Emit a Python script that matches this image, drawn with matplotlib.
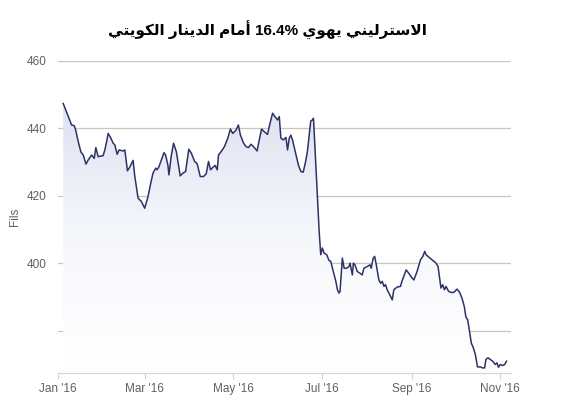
import numpy as np
import pandas as pd
import matplotlib
matplotlib.use('Agg')
import matplotlib.pyplot as plt
import matplotlib.dates as mdates
from matplotlib.colors import LinearSegmentedColormap

# GBP in Kuwaiti fils, 2016 (days counted from 1 Jan 2016)
days = [3.8, 7.3, 9.6, 11.4, 12.4, 14.2, 16.0, 17.6, 19.5, 21.0, 23.4, 25.2, 26.3, 27.9,
        31.3, 32.5, 33.7, 34.8, 36.6, 38.2, 39.4, 41.0, 42.3, 45.1, 46.3, 48.1, 49.7,
        52.0, 53.1, 55.4, 57.7, 60.0, 62.3, 63.9, 65.7, 67.6, 68.5, 69.8, 71.5, 73.3,
        74.4, 76.0, 76.7, 78.4, 79.9, 81.8, 83.6, 84.5, 86.3, 88.2, 90.4, 92.1, 94.4,
        96.2, 98.3, 100.5, 102.4, 104.0, 105.4, 106.9, 108.6, 110.0, 110.9, 112.7,
        115.0, 117.3, 119.1, 120.7, 123.0, 124.6, 126.0, 128.2, 129.9, 131.5, 133.3,
        135.6, 137.5, 139.0, 140.6, 142.5, 144.7, 146.4, 148.2, 149.8, 151.6, 152.8,
        153.9, 155.5, 157.4, 158.5, 159.7, 160.8, 161.9, 163.8, 166.0, 167.7, 169.3,
        170.7, 172.2, 173.4, 174.5, 175.7, 176.4, 180.3, 181.4, 182.5, 183.7, 185.5,
        187.1, 188.3, 190.1, 191.8, 192.9, 194.0, 194.7, 196.3, 197.5, 199.3, 200.9,
        201.6, 203.2, 203.9, 205.0, 206.6, 208.5, 210.0, 211.2, 213.5, 215.3, 216.2,
        217.6, 218.6, 219.9, 221.5, 222.7, 223.8, 225.0, 226.1, 227.2, 229.6, 230.7,
        231.8, 234.1, 236.4, 237.3, 238.7, 240.3, 242.1, 244.0, 245.6, 247.8, 250.2,
        251.8, 253.1, 254.0, 255.9, 258.1, 260.5, 262.3, 263.2, 264.3, 265.5, 266.7,
        267.8, 269.6, 271.5, 273.1, 275.4, 277.2, 278.8, 280.4, 281.5, 282.7, 283.8,
        285.2, 286.6, 288.0, 289.5, 291.4, 293.0, 294.4, 295.3, 296.7, 298.3, 299.9,
        301.8, 302.9, 304.0, 305.2, 306.8, 308.2, 309.5]
fils = [447.4, 443.5, 441.0, 440.8, 439.5, 436.0, 433.0, 432.1, 429.4, 430.6, 432.1, 431.1,
        434.3, 431.6, 431.9, 433.6, 436.0, 438.5, 437.2, 435.6, 435.1, 432.3, 433.6,
        433.3, 433.6, 427.4, 428.5, 430.5, 426.0, 419.3, 418.3, 416.3, 419.8, 423.2,
        426.7, 428.2, 427.7, 428.6, 430.6, 432.8, 432.1, 429.1, 426.2, 432.1, 435.6,
        433.1, 428.2, 425.9, 426.7, 427.2, 433.8, 432.7, 430.2, 429.5, 425.7, 425.7,
        426.5, 430.2, 427.7, 428.4, 429.0, 427.7, 432.1, 433.1, 434.6, 437.1, 439.8,
        438.5, 439.5, 441.0, 438.0, 435.6, 434.6, 434.3, 435.3, 434.3, 433.3, 436.6,
        439.8, 439.0, 438.2, 441.5, 444.5, 443.5, 442.5, 443.5, 437.1, 436.6, 437.3,
        433.6, 437.1, 438.0, 436.6, 433.1, 429.1, 427.2, 427.0, 429.6, 433.1, 438.0,
        442.2, 442.5, 443.0, 409.4, 402.5, 404.5, 403.0, 402.5, 400.8, 400.5, 397.5,
        394.6, 392.1, 391.1, 391.6, 401.5, 398.5, 398.5, 399.0, 400.0, 396.5, 400.0,
        399.5, 397.5, 397.0, 396.5, 398.5, 399.0, 399.5, 398.5, 401.5, 402.0, 399.0,
        395.0, 394.0, 394.6, 393.1, 393.6, 392.1, 390.1, 389.1, 392.1, 392.9, 393.1,
        394.5, 396.1, 398.0, 397.0, 395.8, 395.0, 397.5, 401.0, 402.0, 403.5, 402.5,
        401.8, 401.0, 400.2, 399.0, 396.1, 392.6, 393.6, 392.1, 393.1, 391.6, 391.3,
        391.3, 392.3, 391.3, 389.6, 387.1, 384.0, 383.2, 380.3, 376.3, 374.9, 372.9,
        369.2, 369.2, 368.9, 368.9, 371.4, 371.9, 371.4, 370.9, 369.9, 370.4, 369.1,
        369.9, 369.6, 369.9, 370.9]

y_ticks = [380, 400, 420, 440, 460]
y_labels = ['', '400', '420', '440', '460']
title_text = "الاسترليني يهوي 16.4% أمام الدينار الكويتي"
y_title = "Fils"

# minimal Arabic shaping (matplotlib has no bidi / joining support)
FORMS = {  # isolated, final, initial, medial
    'ا': ('\uFE8D', '\uFE8E', None, None),
    'أ': ('\uFE83', '\uFE84', None, None),
    'د': ('\uFEA9', '\uFEAA', None, None),
    'ر': ('\uFEAD', '\uFEAE', None, None),
    'و': ('\uFEED', '\uFEEE', None, None),
    'ل': ('\uFEDD', '\uFEDE', '\uFEDF', '\uFEE0'),
    'س': ('\uFEB1', '\uFEB2', '\uFEB3', '\uFEB4'),
    'ت': ('\uFE95', '\uFE96', '\uFE97', '\uFE98'),
    'ي': ('\uFEF1', '\uFEF2', '\uFEF3', '\uFEF4'),
    'ن': ('\uFEE5', '\uFEE6', '\uFEE7', '\uFEE8'),
    'ه': ('\uFEE9', '\uFEEA', '\uFEEB', '\uFEEC'),
    'م': ('\uFEE1', '\uFEE2', '\uFEE3', '\uFEE4'),
    'ك': ('\uFED9', '\uFEDA', '\uFEDB', '\uFEDC'),
}
LAM_ALEF = {'ا': ('\uFEFB', '\uFEFC'), 'أ': ('\uFEF7', '\uFEF8')}


def shape_word(word):
    res = []
    prev_dual = False
    i = 0
    while i < len(word):
        c = word[i]
        nxt = word[i + 1] if i + 1 < len(word) else None
        if c == 'ل' and nxt in LAM_ALEF:
            res.append(LAM_ALEF[nxt][1 if prev_dual else 0])
            prev_dual = False
            i += 2
            continue
        iso, fin, ini, med = FORMS[c]
        next_ok = nxt in FORMS and ini is not None
        if prev_dual and next_ok:
            g = med
        elif prev_dual:
            g = fin
        elif next_ok:
            g = ini
        else:
            g = iso
        res.append(g)
        prev_dual = ini is not None
        i += 1
    return ''.join(reversed(res))


def visual(text):
    tokens = text.split(' ')
    return ' '.join(shape_word(t) if t[0] in FORMS else t for t in reversed(tokens))


dates = pd.Timestamp('2016-01-01') + pd.to_timedelta(days, unit='D')
x = mdates.date2num(dates)
y = np.array(fils)

W, H = 567, 407
fig = plt.figure(figsize=(W / 100, H / 100), dpi=100)
fig.patch.set_facecolor('white')
left, right, top, bottom = 57.7, 511, 61, 373.3
ax = fig.add_axes([left / W, 1 - bottom / H, (right - left) / W, (bottom - top) / H])

ymin, ymax = 367.3, 460
xmin = mdates.date2num(pd.Timestamp('2016-01-01'))
xmax = mdates.date2num(pd.Timestamp('2016-01-01') + pd.Timedelta(days=312.6))

# gradient fill under the line
poly = ax.fill_between(x, y, ymin, color='none', lw=0)
grad = np.linspace(0, 1, 256).reshape(-1, 1)
cmap = LinearSegmentedColormap.from_list('g', ['#ffffff', '#f6f7fb', '#d9dfef'])
im = ax.imshow(grad, cmap=cmap, aspect='auto', origin='lower',
               extent=[xmin, xmax, ymin, 452], zorder=1)
im.set_clip_path(poly.get_paths()[0], transform=ax.transData)

ax.plot(x, y, color='#2e3266', lw=1.1, zorder=3)

ax.set_xlim(xmin, xmax)
ax.set_ylim(ymin, ymax)
ax.set_yticks(y_ticks)
ax.set_yticklabels(y_labels)
ax.grid(axis='y', color='#cbc5bc', lw=0.9, zorder=0)
ax.set_axisbelow(True)

ax.xaxis.set_major_locator(mdates.MonthLocator(bymonth=[1, 3, 5, 7, 9, 11]))
ax.xaxis.set_major_formatter(mdates.DateFormatter("%b '%y"))

for s in ['top', 'right', 'left']:
    ax.spines[s].set_visible(False)
ax.spines['bottom'].set_color('#d0d6e0')
ax.spines['bottom'].set_linewidth(0.9)
ax.tick_params(axis='y', length=0, pad=8, labelsize=8.5, labelcolor='#606060')
ax.tick_params(axis='x', length=4, width=0.8, color='#d0d6e0', pad=3,
               labelsize=8.5, labelcolor='#606060')
for lab in ax.get_xticklabels() + ax.get_yticklabels():
    lab.set_fontfamily('Liberation Sans')

fig.text(15 / W, 1 - 217 / H, y_title, rotation=90, ha='center', va='center',
         fontsize=8.5, color='#606060', family='Liberation Sans')

fig.text(267 / W, 1 - 30 / H, visual(title_text), ha='center', va='center',
         fontsize=11, fontweight='bold', color='black',
         family=['Liberation Sans', 'DejaVu Sans'])

fig.savefig('out.png', dpi=100, facecolor='white')
